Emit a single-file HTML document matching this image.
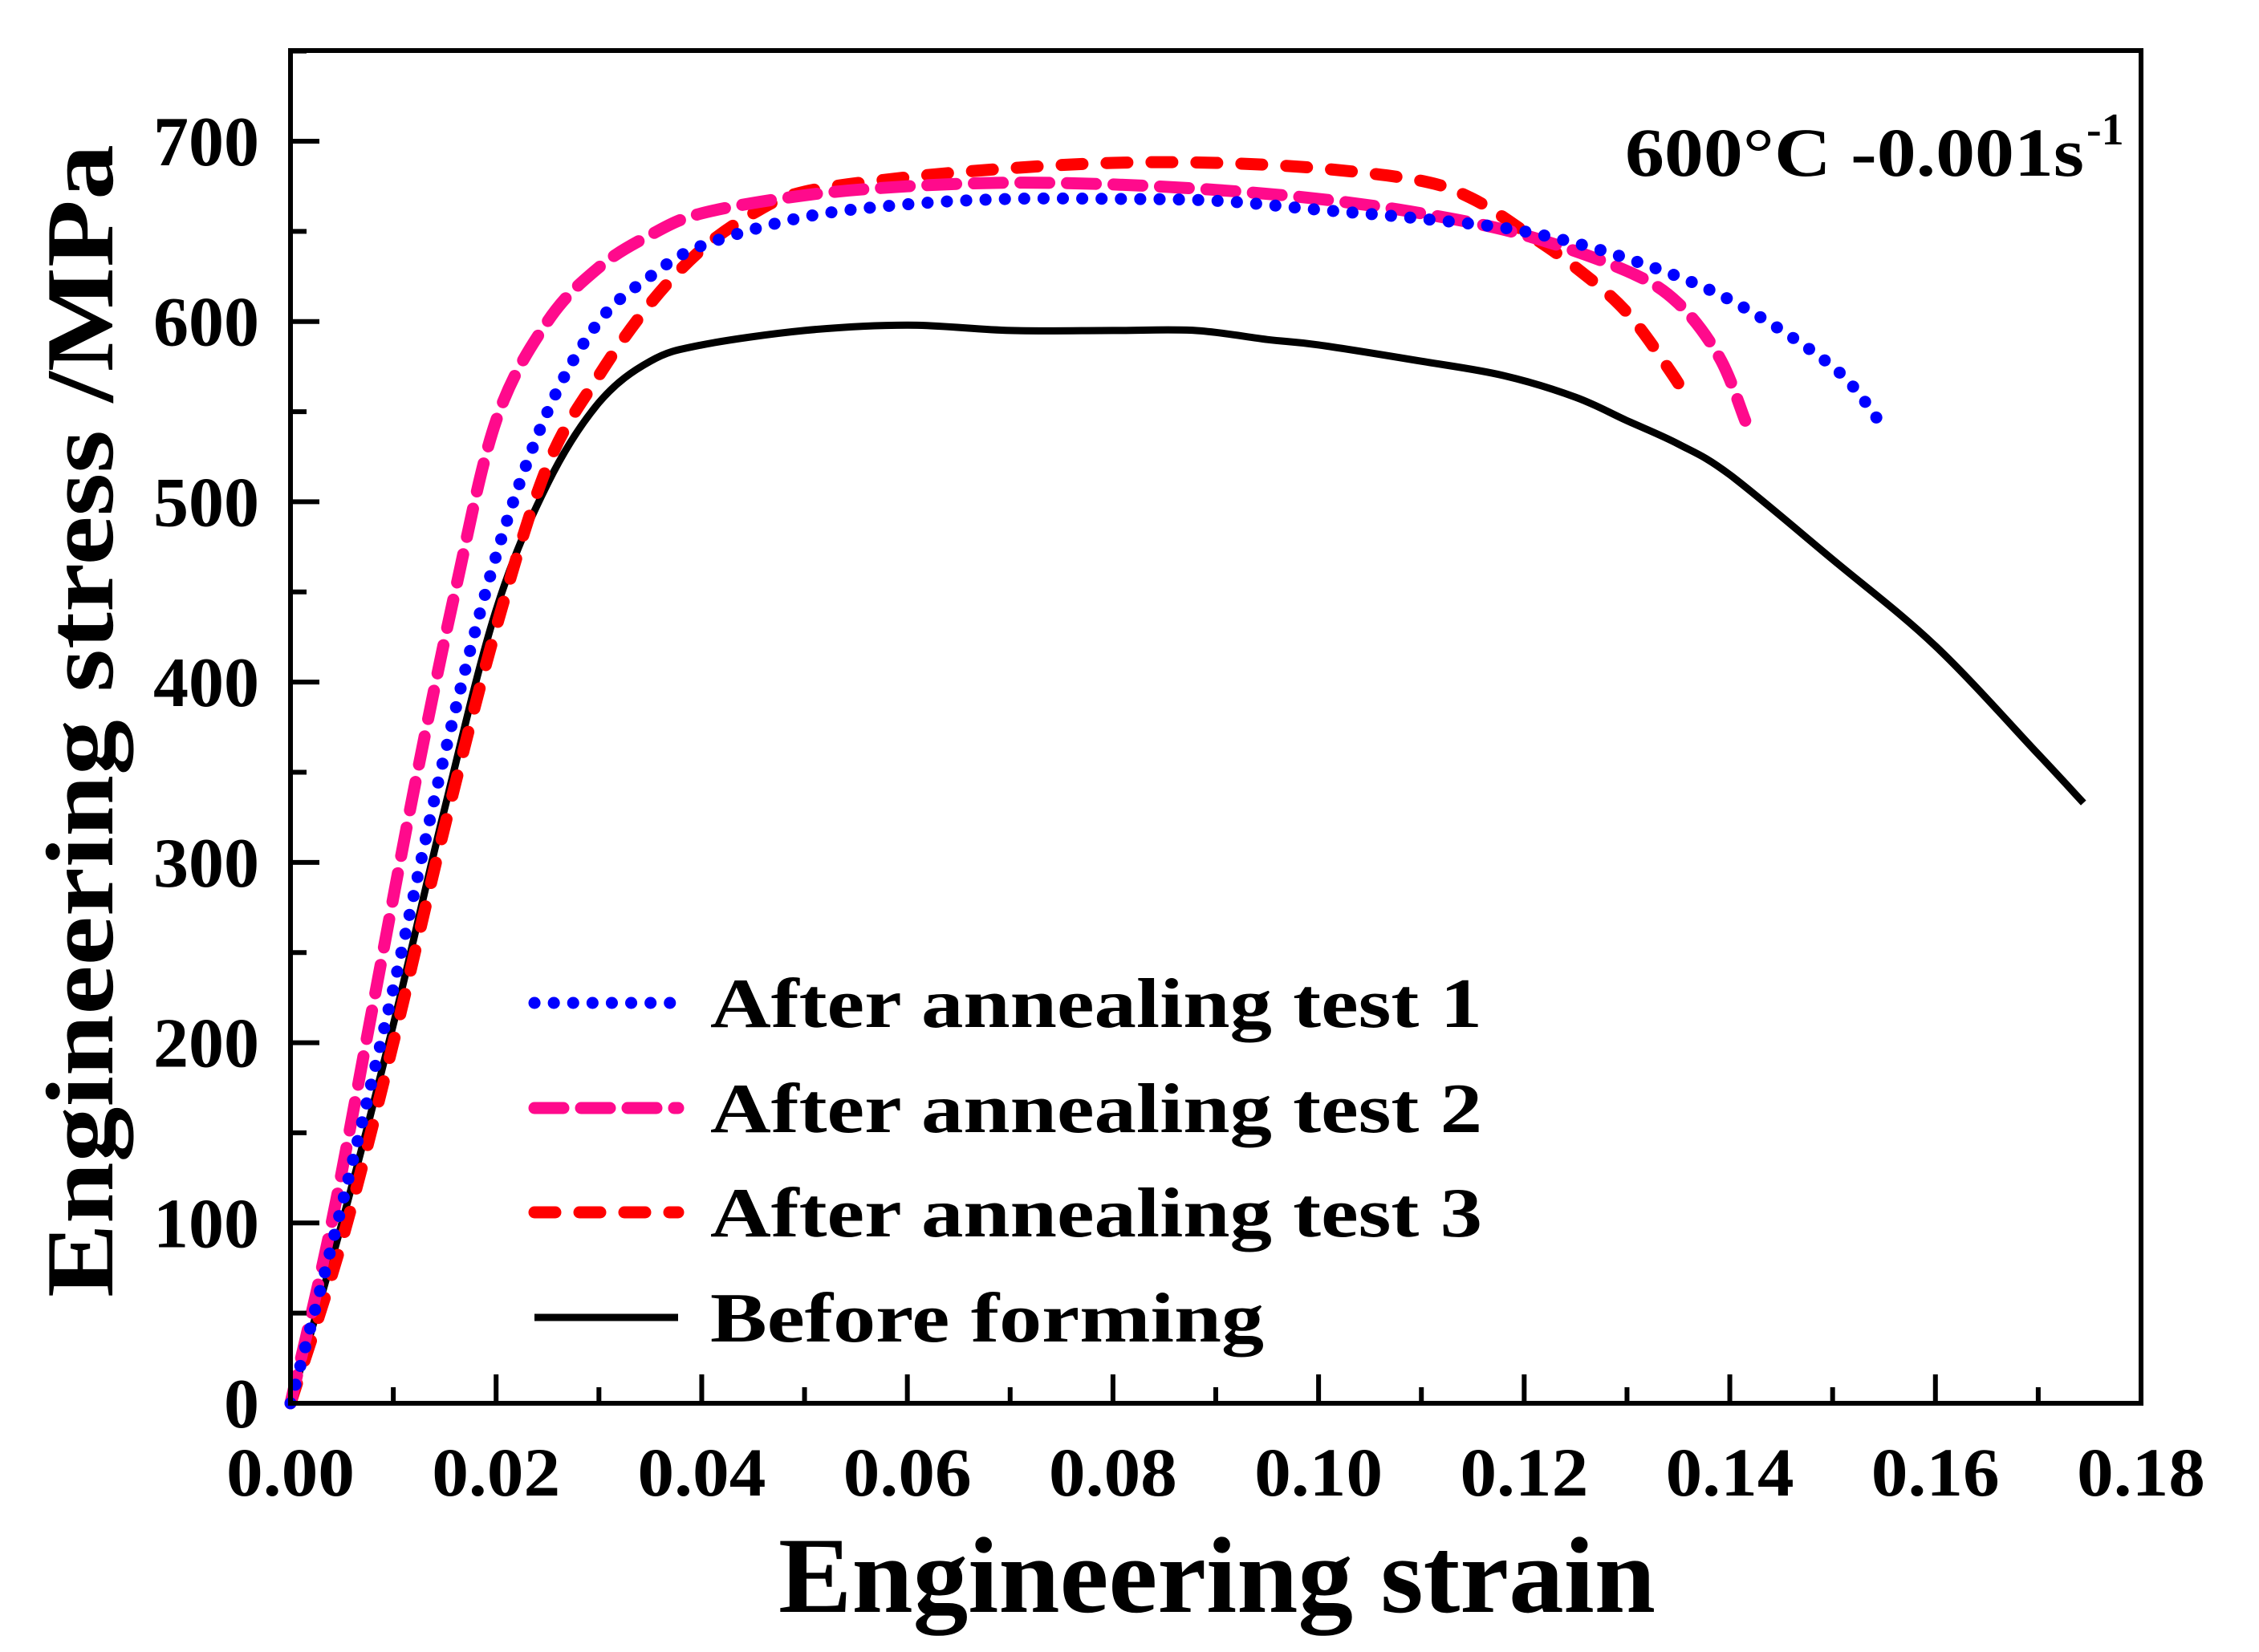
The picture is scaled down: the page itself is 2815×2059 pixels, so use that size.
<!DOCTYPE html>
<html><head><meta charset="utf-8"><style>
html,body{margin:0;padding:0;background:#fff;}
svg{display:block;font-family:"Liberation Serif",serif;font-weight:bold;}
</style></head><body>
<svg id="chart" width="2815" height="2059" viewBox="0 0 2815 2059" xmlns="http://www.w3.org/2000/svg">
<rect width="2815" height="2059" fill="#fff"/>
<g id="plot"></g>
<g id="axes"></g>
<text x="970" y="2009" font-size="135" textLength="1093" lengthAdjust="spacingAndGlyphs">Engineering strain</text>
<text transform="translate(140,1617) rotate(-90)" x="0" y="0" font-size="120" textLength="1437" lengthAdjust="spacingAndGlyphs">Engineering stress /MPa</text>
<text x="2025" y="219" font-size="86" textLength="572" lengthAdjust="spacingAndGlyphs">600°C -0.001s</text>
<text x="2600" y="180" font-size="56">-1</text>
<g id="legend"></g>
</svg>
<script>
const xTicks = [0, 0.02, 0.04, 0.06, 0.08, 0.10, 0.12, 0.14, 0.16, 0.18];
const xTickLabels = ["0.00","0.02","0.04","0.06","0.08","0.10","0.12","0.14","0.16","0.18"];
const yTicks = [0,100,200,300,400,500,600,700];
const yTickLabels = ["0","100","200","300","400","500","600","700"];
const seriesNames = ["After annealing test 1","After annealing test 2","After annealing test 3","Before forming"];
const test1Strain = [0,0.005,0.01,0.015,0.02,0.025,0.03,0.035,0.04,0.05,0.06,0.07,0.08,0.09,0.1,0.11,0.12,0.13,0.14,0.15,0.1545];
const test1Stress = [0,110,230,360,470,550,600,625,642,658,665,668,668,667,662,657,650,635,612,575,545];
const test2Strain = [0,0.004,0.008,0.012,0.016,0.02,0.025,0.03,0.035,0.04,0.05,0.06,0.07,0.08,0.09,0.1,0.11,0.12,0.13,0.135,0.139,0.1415];
const test2Stress = [0,100,220,340,450,545,600,630,648,660,670,675,677,676,673,668,660,648,628,610,580,545];
const test3Strain = [0,0.005,0.01,0.015,0.02,0.025,0.03,0.035,0.04,0.045,0.05,0.06,0.07,0.08,0.09,0.1,0.11,0.115,0.12,0.125,0.13,0.1345,0.136];
const test3Stress = [0,90,200,320,430,520,570,610,640,660,672,680,685,688,688,685,678,668,650,630,605,570,555];
const beforeStrain = [0,0.005,0.01,0.015,0.02,0.025,0.03,0.035,0.04,0.05,0.06,0.07,0.08,0.088,0.095,0.1,0.11,0.118,0.125,0.13,0.135,0.14,0.15,0.16,0.17,0.1744];
const beforeStress = [0,100,210,330,440,510,555,578,587,595,598,595,595,595,590,587,578,570,558,545,532,515,468,420,360,333];

const L=362,R=2668,T=63,B=1749;
const X0=0,X1=0.18;
function xs(v){return L+(v-X0)/(X1-X0)*(R-L);}
function yScale(v){return B-v*(1573/700);}
const NS="http://www.w3.org/2000/svg";
function mk(tag,attrs,parent){const e=document.createElementNS(NS,tag);for(const k in attrs)e.setAttribute(k,attrs[k]);parent.appendChild(e);return e;}
const plot=document.getElementById('plot'), axes=document.getElementById('axes'), legend=document.getElementById('legend');
function smoothPath(P){
 let d="M"+P[0][0].toFixed(1)+","+P[0][1].toFixed(1);
 for(let i=0;i<P.length-1;i++){
  const p0=P[Math.max(0,i-1)],p1=P[i],p2=P[i+1],p3=P[Math.min(P.length-1,i+2)];
  const c1=[p1[0]+(p2[0]-p0[0])/6,p1[1]+(p2[1]-p0[1])/6];
  const c2=[p2[0]-(p3[0]-p1[0])/6,p2[1]-(p3[1]-p1[1])/6];
  d+=" C"+c1[0].toFixed(1)+","+c1[1].toFixed(1)+" "+c2[0].toFixed(1)+","+c2[1].toFixed(1)+" "+p2[0].toFixed(1)+","+p2[1].toFixed(1);
 }
 return d;
}
const styles=[
 {c:"#0000ff",d:"0.1 24",cap:"round",w:15},
 {c:"#ff0a8c",d:"36 22",cap:"round",w:15},
 {c:"#ff0000",d:"26 30",cap:"round",w:15},
 {c:"#000000",d:"",cap:"butt",w:9}];
const data=[[test1Strain,test1Stress],[test2Strain,test2Stress],[test3Strain,test3Stress],[beforeStrain,beforeStress]];
const snames=["series-test-1","series-test-2","series-test-3","series-before-forming"];
for(let s=3;s>=0;s--){
 const [xa,ya]=data[s];
 const P=xa.map((x,i)=>[xs(x),yScale(ya[i])]);
 const p=mk('path',{d:smoothPath(P),fill:"none",stroke:styles[s].c,"stroke-width":styles[s].w,"stroke-dasharray":styles[s].d,"stroke-linecap":styles[s].cap,"stroke-linejoin":"round"},plot);
 
 
}
const fr=mk('rect',{x:L,y:T,width:R-L,height:B-T,fill:"none",stroke:"#000","stroke-width":6},axes);


xTicks.forEach((v,i)=>{
 const x=xs(v);
 const t=mk('line',{x1:x,x2:x,y1:B,y2:B-36,stroke:"#000","stroke-width":6},axes);
 
 
 if(i<xTicks.length-1){const xm=xs(v+0.01);const m=mk('line',{x1:xm,x2:xm,y1:B,y2:B-20,stroke:"#000","stroke-width":6},axes);
 
 }
 const lb=mk('text',{x:x,y:1864,"font-size":86,"text-anchor":"middle",textLength:160,lengthAdjust:"spacingAndGlyphs"},axes);
 lb.textContent=xTickLabels[i];
 
 
});
yTicks.forEach((v,i)=>{
 const y=yScale(v);
 const t=mk('line',{x1:L,x2:L+36,y1:y,y2:y,stroke:"#000","stroke-width":6},axes);
 
 
 const ym=yScale(v+50);
 if(ym>T){const m=mk('line',{x1:L,x2:L+20,y1:ym,y2:ym,stroke:"#000","stroke-width":6},axes);
 
 }
 const lb=mk('text',{x:323,y:y+30,"font-size":88,"text-anchor":"end"},axes);
 lb.textContent=yTickLabels[i];
 
 
});
const legY=[1250,1381,1511,1642];
const legW=[962,962,962,690];
for(let s=0;s<4;s++){
 const ln=mk('line',{x1:666,x2:845,y1:legY[s],y2:legY[s],stroke:styles[s].c,"stroke-width":styles[s].w,"stroke-dasharray":styles[s].d,"stroke-linecap":styles[s].cap},legend);
 
 
 const tx=mk('text',{x:885,y:legY[s]+30,"font-size":88,textLength:legW[s],lengthAdjust:"spacingAndGlyphs"},legend);
 tx.textContent=seriesNames[s];
 
 
}
</script>
</body></html>
